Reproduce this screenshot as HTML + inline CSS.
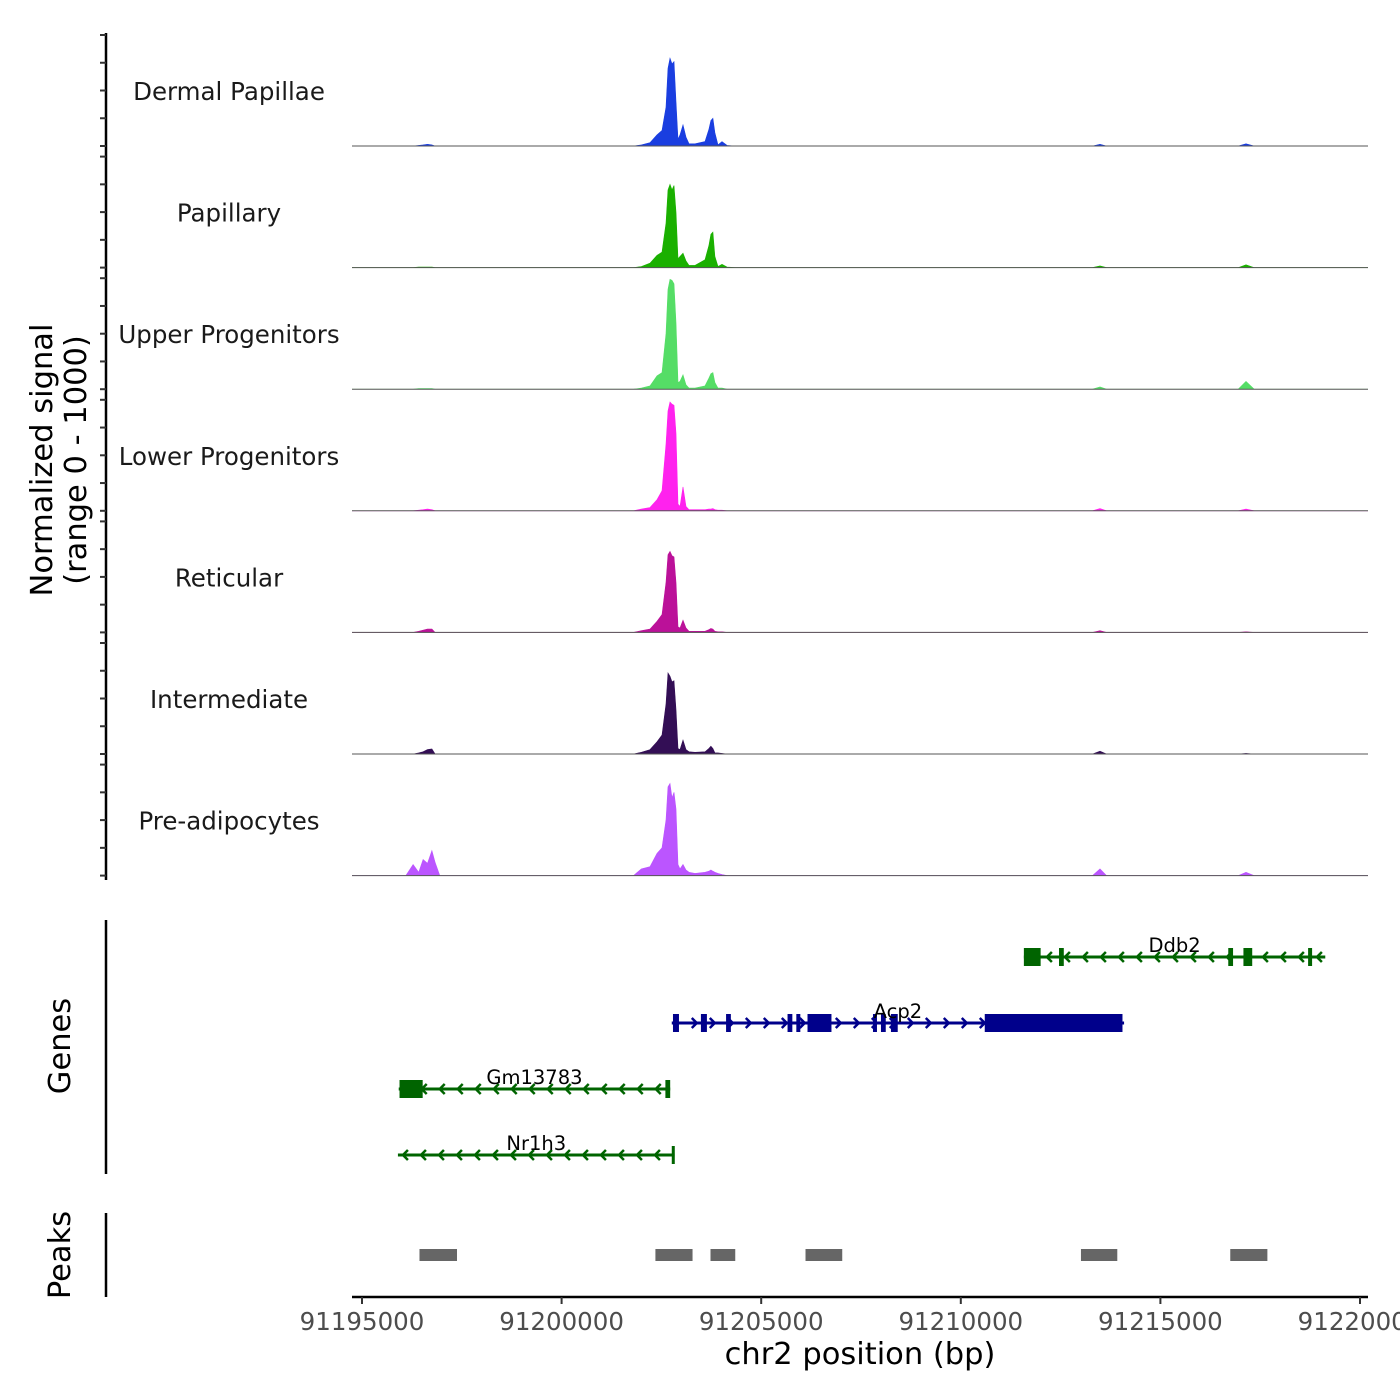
<!DOCTYPE html>
<html><head><meta charset="utf-8"><style>
html,body{margin:0;padding:0;background:#fff;}
svg{display:block;font-family:"DejaVu Sans","Liberation Sans",sans-serif;}
</style></head><body>
<svg id="chart" width="1400" height="1400" viewBox="0 0 1400 1400" xmlns="http://www.w3.org/2000/svg">
<rect width="1400" height="1400" fill="#fff"/>
<g id="tracks"></g>
<g id="genes"></g>
<g id="peaks"></g>
<g id="axes"></g>
<text transform="translate(52,460) rotate(-90)" text-anchor="middle" font-size="30.5" fill="#000">Normalized signal</text>
<text transform="translate(86,460) rotate(-90)" text-anchor="middle" font-size="30.5" fill="#000">(range 0 - 1000)</text>
<text transform="translate(70,1046) rotate(-90)" text-anchor="middle" font-size="30.5" fill="#000">Genes</text>
<text transform="translate(70,1255) rotate(-90)" text-anchor="middle" font-size="30.5" fill="#000">Peaks</text>
<text x="860" y="1364" text-anchor="middle" font-size="30.5" fill="#000">chr2 position (bp)</text>
</svg>
<script>
const START = 91195000;
const trackNames = ["Dermal Papillae","Papillary","Upper Progenitors","Lower Progenitors","Reticular","Intermediate","Pre-adipocytes"];
const trackColors = ["#1a3ee0","#1ab000","#55dd66","#ff22ee","#bb1199","#330e55","#bb55ff"];
const positions = [0,1100,1280,1420,1530,1640,1750,1830,1950,6800,7000,7214,7390,7515,7615,7665,7715,7766,7816,7866,7916,7966,8041,8116,8191,8341,8591,8691,8741,8791,8841,8917,9018,9143,9343,18300,18487,18650,21950,22144,22350,25450];
const sigDermal = [0,0,0,5,10,15,10,0,0,0,10,30,100,140,350,700,790,740,760,400,60,100,190,80,20,20,40,150,230,250,120,10,40,5,0,0,15,0,0,20,0,0];
const sigPapillary = [0,0,0,5,5,5,5,0,0,0,10,40,110,140,400,700,750,700,740,500,80,100,130,60,20,20,70,200,300,320,100,10,30,5,0,0,15,0,0,25,0,0];
const sigUpper = [0,0,0,5,5,5,5,0,0,0,10,30,120,150,500,900,990,980,950,600,60,70,130,40,10,10,30,100,140,150,60,10,10,0,0,0,20,0,0,70,0,0];
const sigLower = [0,0,0,5,10,15,10,0,0,0,15,30,100,180,600,900,980,960,950,700,60,40,215,40,10,10,10,15,15,20,10,5,5,0,0,0,20,0,0,15,0,0];
const sigReticular = [0,0,0,10,20,30,30,0,0,0,15,30,100,160,450,700,730,690,680,450,50,40,110,40,10,10,10,25,35,30,10,5,5,0,0,0,15,0,0,5,0,0];
const sigIntermediate = [0,0,0,10,20,40,45,0,0,0,15,40,110,170,450,730,700,650,660,400,50,40,125,40,20,15,20,50,70,50,10,10,5,0,0,0,25,0,0,5,0,0];
const sigPreadipo = [0,0,100,30,145,110,225,120,0,0,60,80,200,250,500,800,830,700,750,600,100,60,100,50,30,20,30,40,50,40,30,20,10,0,0,0,60,0,0,30,0,0];
const allSignals = [sigDermal,sigPapillary,sigUpper,sigLower,sigReticular,sigIntermediate,sigPreadipo];
const xTicks = [91195000,91200000,91205000,91210000,91215000,91220000];
const geneNames = ["Ddb2","Acp2","Gm13783","Nr1h3"];
const geneStart = [91211580,91202760,91195920,91195900];
const geneEnd = [91219130,91214090,91202720,91202830];
const geneStrand = [-1,1,-1,-1];
const geneColors = ["#006400","#00008b","#006400","#006400"];
const geneExons = [
  [[91211580,91212000],[91212460,91212580],[91216700,91216820],[91217080,91217300],[91218700,91218800]],
  [[91202790,91202940],[91203490,91203640],[91204120,91204240],[91205660,91205780],[91205880,91205980],[91206160,91206760],[91207800,91207900],[91208000,91208120],[91208250,91208420],[91210600,91214050]],
  [[91195940,91196520],[91202600,91202720]],
  [[91202760,91202830]]
];
const peakStart = [91196440,91202350,91203730,91206110,91213010,91216750];
const peakEnd = [91197380,91203280,91204350,91207030,91213920,91217680];

const NS="http://www.w3.org/2000/svg";
function mk(tag, attrs, parent){const e=document.createElementNS(NS,tag);for(const k in attrs)e.setAttribute(k,attrs[k]);parent.appendChild(e);return e;}
const xScale = bp => 362 + (bp-START)*(998/25000);
const X0=352, X1=1368;
const tracks=document.getElementById('tracks');
const panelH=121.6, scaleH=111;
trackNames.forEach((name,i)=>{
  const base=146+panelH*i;
  const yv=v=>base - v/1000*scaleH;
  const sig=allSignals[i];
  let d=`M${X0},${base}`;
  positions.forEach((p,j)=>{const x=Math.max(X0,Math.min(X1,xScale(START+p)));d+=` L${x.toFixed(1)},${yv(sig[j]).toFixed(1)}`;});
  d+=` L${X1},${base} Z`;
  const a=mk('path',{d:d,fill:trackColors[i],stroke:trackColors[i],'stroke-width':0.6},tracks);
  
  
  const bl=mk('line',{x1:X0,x2:X1,y1:base,y2:base,stroke:'#555','stroke-width':1},tracks);
  
  
  const t=mk('text',{x:229,y:base-46,'text-anchor':'middle','font-size':24.5,fill:'#1a1a1a'},tracks);
  t.textContent=name;
  
  
});
const genes=document.getElementById('genes');
const rowY=[957,1023,1089,1155];
geneNames.forEach((g,i)=>{
  const y=rowY[i], c=geneColors[i];
  const grp=mk('g',{},genes);
  
  
  const xs=xScale(geneStart[i]), xe=xScale(geneEnd[i]);
  mk('line',{x1:xs,x2:xe,y1:y,y2:y,stroke:c,'stroke-width':3},grp);
  for(let x=xs+6;x<xe-4;x+=18){
    const s=geneStrand[i];
    mk('polyline',{points:`${x-4*s},${y-5} ${x+1*s},${y} ${x-4*s},${y+5}`,fill:'none',stroke:c,'stroke-width':2.5},grp);
  }
  geneExons[i].forEach(e=>{
    const a=xScale(e[0]), b=xScale(e[1]);
    mk('rect',{x:a,y:y-9,width:Math.max(3,b-a),height:18,fill:c},grp);
  });
  const t=mk('text',{x:(xs+xe)/2,y:y-5,'text-anchor':'middle','font-size':19.5,fill:'#000'},grp);
  t.textContent=g;
  
  
});
const peaks=document.getElementById('peaks');
peakStart.forEach((s,i)=>{
  const r=mk('rect',{x:xScale(s),y:1249,width:xScale(peakEnd[i])-xScale(s),height:12,fill:'#666'},peaks);
  
  
});
const axes=document.getElementById('axes');
[[33,880],[920,1174],[1213,1297]].forEach(s=>{
  const l=mk('line',{x1:106,x2:106,y1:s[0],y2:s[1],stroke:'#000','stroke-width':2.5},axes);
  
  
});
for(let i=0;i<7;i++){for(let k=0;k<5;k++){
  const y=146+panelH*i-k*27.75;
  const tk=mk('line',{x1:100,x2:106,y1:y,y2:y,stroke:'#333','stroke-width':2},axes);
  
  
}}
const xl=mk('line',{x1:X0,x2:X1,y1:1297,y2:1297,stroke:'#000','stroke-width':2.5},axes);


xTicks.forEach(v=>{
  const x=xScale(v);
  const tk=mk('line',{x1:x,x2:x,y1:1297,y2:1304,stroke:'#333','stroke-width':2},axes);
  
  
  const t=mk('text',{x:x,y:1330,'text-anchor':'middle','font-size':24.5,fill:'#4d4d4d'},axes);
  t.textContent=v;
  
  
});
</script>
</body></html>
